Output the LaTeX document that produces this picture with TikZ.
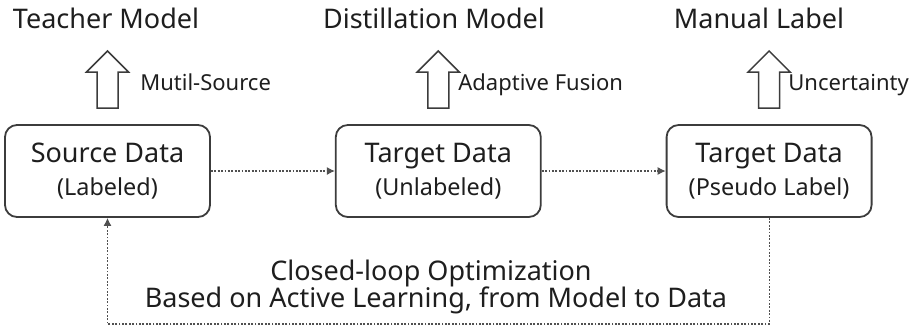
\documentclass[tikz,border=0pt]{standalone}
\usepackage{fontspec}
\setmainfont{Noto Sans}
\usetikzlibrary{arrows.meta, positioning}
\definecolor{dlInk}{HTML}{1E1E1E}
\definecolor{dlLine}{HTML}{3C3C3C}
\definecolor{dlDot}{HTML}{505050}

\begin{document}
\begin{tikzpicture}[
  x=0.5pt, y=-0.5pt,
  node distance=62pt,
  box/.style={draw=dlLine, line width=0.9pt, rounded corners=6pt, align=center,
              minimum width=102.5pt, minimum height=46pt, inner sep=0pt, fill=white,
              text=dlInk, font=\fontsize{13.5}{16.5}\selectfont},
  title/.style={anchor=base, inner sep=0pt, text=dlInk, font=\fontsize{13.5}{16}\selectfont},
  tag/.style={anchor=base west, inner sep=0pt, text=dlInk, font=\fontsize{11}{13}\selectfont},
  flow/.style={-{Latex[length=4pt,width=4pt]}, dlDot, line width=0.6pt, dash pattern=on 0.9pt off 0.8pt},
  hollow/.pic={\draw[dlLine, line width=0.75pt, line join=miter]
    (-10.5,0) -- (-10.5,-36) -- (-21,-36) -- (0,-57) -- (21,-36) -- (10.5,-36) -- (10.5,0) -- cycle;}
]
\useasboundingbox (0,0) rectangle (912,328);

\node[box] (src) at (107.5,171) {Source Data\\{\fontsize{11.7}{16.5}\selectfont (Labeled)}};
\node[box, right=of src] (tgt) {Target Data\\{\fontsize{11.7}{16.5}\selectfont (Unlabeled)}};
\node[box, right=of tgt] (pseudo) {Target Data\\{\fontsize{11.7}{16.5}\selectfont (Pseudo Label)}};

\node[title] (teacher) at (106,28) {Teacher Model};
\node[title] (distill) at (434,28) {Distillation Model};
\node[title] (manual) at (759,28) {Manual Label};

\pic at (src |- 0,108) {hollow};
\pic at (tgt |- 0,108) {hollow};
\pic at (pseudo |- 0,108) {hollow};

\node[tag] (multi) at (140,90) {Mutil-Source};
\node[tag] (fusion) at (458,90) {Adaptive Fusion};
\node[tag] (uncert) at (788,90) {Uncertainty};

\draw[flow] (src) -- (tgt);
\draw[flow] (tgt) -- (pseudo);

% feedback loop back to the source data
\coordinate (loopbot) at (0,324);
\draw[flow] (pseudo.south) -- (pseudo.south |- loopbot) -| (src.south);

\node[title] (loopa) at (431,280) {Closed-loop Optimization};
\node[title] (loopb) at (436,307) {Based on Active Learning, from Model to Data};

\end{tikzpicture}
\end{document}
